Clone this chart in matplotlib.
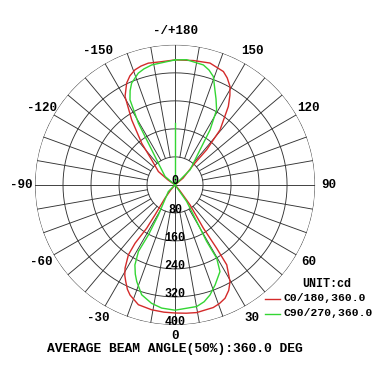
import numpy as np
import matplotlib
matplotlib.use('Agg')
import matplotlib.pyplot as plt
from matplotlib.lines import Line2D

# ---------------- 数据（角度单位：度，光强单位：cd） ----------------
c0_angles = [-180, -173.8, -167.6, -164, -160.8, -157.5, -154.6, -150.5, -146.3, -141.3, -137, -128.7, -125, -122,
             -90, -42, -40, -37, -33.7, -33.2, -34.4, -33.7, -31, -29, -27, -24.5, -22.2, -17, -10.6, -5, 0,
             5, 9.6, 17.3, 20.5, 23.8, 27, 29.6, 32.9, 33.3, 33.2, 36.9, 40, 42, 90, 128, 130,
             137.5, 138, 140.7, 145.8, 148.5, 150.8, 154, 156.9, 164, 171.6, 180]
c0_values = [357, 354, 356, 353, 348, 337, 322, 290, 223, 152, 98, 61, 25, 0,
             0, 0, 20, 48, 103, 148, 202, 240, 277, 296, 310, 328, 340, 358, 363, 365, 366,
             368, 370, 367, 362, 354, 338, 318, 272, 217, 148, 71, 20, 0, 0, 0, 30,
             78, 135, 203, 271, 300, 322, 340, 352, 362, 359, 357]

c90_angles = [-180, -169, -165, -161.8, -156.9, -154.5, -152.1, -149.3, -147.4, -142.4, -130, -125,
              -90, -48, -45, -29, -28, -28.8, -26.6, -24, -21.6, -16.9, -11.2, -6.2, 0,
              10.1, 14, 17.6, 21.8, 27.4, 29.6, 29.2, 30.6, 35, 45, 90, 130,
              135, 144.5, 147.5, 151, 154.5, 157.2, 160.5, 163.5, 166.7, 174.7, 180]
c90_values = [357, 349, 343, 336, 316, 298, 275, 205, 141, 78, 37, 0,
              0, 0, 27, 98, 162, 217, 256, 279, 297, 328, 345, 354, 358,
              353, 344, 330, 308, 279, 241, 185, 122, 58, 0, 0, 0,
              61, 123, 186, 245, 272, 294, 328, 342, 352, 359, 357]
c90_spike = 178   # C90 曲线在 180° 方向上的竖线

ring_values = [80, 160, 240, 320, 400]
angle_ticks = [0, 30, 60, 90, 120, 150, 180, -150, -120, -90, -60, -30]
angle_labels = ['0', '30', '60', '90', '120', '150', '-/+180', '-150', '-120', '-90', '-60', '-30']

# ---------------- 画布 ----------------
FONT = 'Liberation Mono'
grid_c = '#333333'
red = '#d42a2a'
green = '#33d633'

fig = plt.figure(figsize=(3.8, 3.8), dpi=100)
ax = fig.add_axes([0.0921, 0.145, 0.737, 0.737], projection='polar')
ax.set_theta_zero_location('S')
ax.set_theta_direction(1)
ax.set_ylim(0, 400)
ax.axis('off')

# 同心圆
t = np.linspace(0, 2 * np.pi, 361)
for rv in ring_values:
    ax.plot(t, np.full_like(t, rv), color=grid_c, lw=0.65, zorder=1)

# 径向线，每 10 度一条
for d in range(0, 360, 10):
    th = np.deg2rad(d)
    r0 = 0 if d % 90 == 0 else 80
    ax.plot([th, th], [r0, 400], color=grid_c, lw=0.65, zorder=1)

# 曲线
ax.plot(np.deg2rad(c0_angles), c0_values, color=red, lw=1.0, zorder=3)
ax.plot(np.deg2rad(c90_angles), c90_values, color=green, lw=1.0, zorder=4)
ax.plot([np.pi, np.pi], [0, c90_spike], color=green, lw=1.0, zorder=4)

# 角度标签
for a, lab in zip(angle_ticks, angle_labels):
    rr = 432 if a == 0 else 440
    ax.text(np.deg2rad(a), rr, lab, ha='center', va='center', fontsize=9,
            family=FONT, fontweight='bold', clip_on=False)

# 径向刻度标签
ax.text(np.pi, 11, '0', ha='center', va='center', fontsize=8.5, family=FONT,
        fontweight='bold', zorder=5)
for rv in ring_values:
    ax.text(0, rv - 9, str(rv), ha='center', va='center', fontsize=8.5,
            family=FONT, fontweight='bold', zorder=5)

# 图例
fig.text(327 / 380, 1 - 284 / 380, 'UNIT:cd', ha='center', va='center',
         fontsize=8.5, family=FONT, fontweight='bold')
fig.add_artist(Line2D([265 / 380, 280 / 380], [1 - 299 / 380] * 2, color=red, lw=1.0))
fig.add_artist(Line2D([265 / 380, 280 / 380], [1 - 314 / 380] * 2, color=green, lw=1.0))
fig.text(283 / 380, 1 - 298 / 380, 'C0/180,360.0', ha='left', va='center',
         fontsize=8.2, family=FONT, fontweight='bold')
fig.text(283 / 380, 1 - 313 / 380, 'C90/270,360.0', ha='left', va='center',
         fontsize=8.2, family=FONT, fontweight='bold')

# 底部说明
fig.text(175 / 380, 1 - 349 / 380, 'AVERAGE BEAM ANGLE(50%):360.0 DEG', ha='center',
         va='center', fontsize=9.4, family=FONT, fontweight='bold')

fig.savefig('out.png', dpi=100, facecolor='white')
